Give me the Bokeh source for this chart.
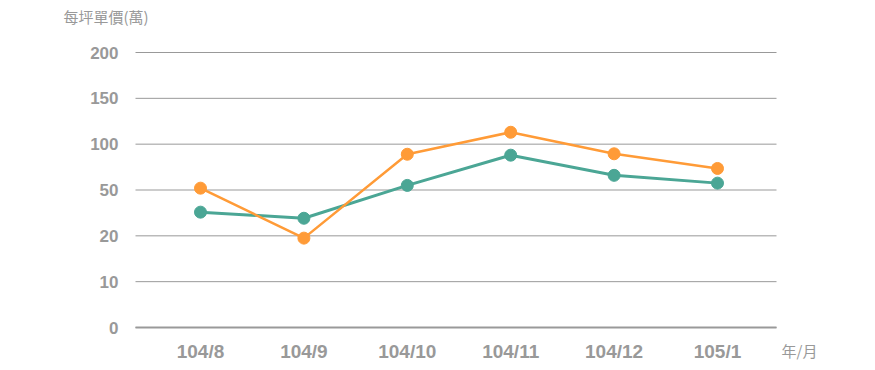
import numpy as np
from bokeh.plotting import figure
from bokeh.models import ColumnDataSource, FixedTicker, Range1d, Label
from bokeh.embed import file_html
from bokeh.resources import INLINE

months = ["104/8", "104/9", "104/10", "104/11", "104/12", "105/1"]
series_green = [35.5, 31.5, 55, 88, 66, 57.5]
series_orange = [52, 19.5, 89, 113, 89.5, 73.5]
y_tick_values = [0, 10, 20, 50, 100, 150, 200]
y_title = "每坪單價(萬)"
x_title = "年/月"

GREEN = "#4ba695"
ORANGE = "#ff9b37"
GRAY = "#999999"

W, H = 875, 370
# pixel layout of the plotting area inside the canvas
PX_LEFT, PX_RIGHT, PX_TOP, PX_BOTTOM = 135, 776, 52, 327
PX_FIRST, PX_LAST = 200, 717

tick_pos = list(range(len(y_tick_values)))
def ypos(vals):
    return list(np.interp(vals, y_tick_values, tick_pos))

xs = list(range(len(months)))

ux = (PX_LAST - PX_FIRST) / (len(months) - 1)
uy = (PX_BOTTOM - PX_TOP) / (len(y_tick_values) - 1)
def dx(px):
    return (px - PX_FIRST) / ux
def dy(py):
    return (PX_BOTTOM - py) / uy

p = figure(width=W, height=H, output_backend="svg", toolbar_location=None,
           x_range=Range1d(dx(0), dx(W)), y_range=Range1d(dy(H), dy(0)),
           min_border=0)
p.outline_line_color = None
p.background_fill_color = "white"
p.border_fill_color = "white"
p.xgrid.visible = False
p.ygrid.visible = False

grid_x0, grid_x1 = dx(PX_LEFT), dx(PX_RIGHT)
p.segment(x0=[grid_x0] * len(tick_pos), x1=[grid_x1] * len(tick_pos),
          y0=tick_pos, y1=tick_pos, line_color=GRAY, line_width=1)

p.yaxis.fixed_location = grid_x0
p.yaxis.ticker = FixedTicker(ticks=tick_pos)
p.yaxis.major_label_overrides = {i: str(v) for i, v in zip(tick_pos, y_tick_values)}
p.yaxis.axis_line_color = None
p.yaxis.major_tick_line_color = None
p.yaxis.minor_tick_line_color = None
p.yaxis.major_tick_out = 0
p.yaxis.major_tick_in = 0
p.yaxis.major_label_standoff = 17
p.yaxis.major_label_text_font = "Liberation Sans"
p.yaxis.major_label_text_font_style = "bold"
p.yaxis.major_label_text_font_size = "17px"
p.yaxis.major_label_text_color = GRAY

p.xaxis.fixed_location = 0
p.xaxis.bounds = (grid_x0, grid_x1)
p.xaxis.ticker = FixedTicker(ticks=xs)
p.xaxis.major_label_overrides = {i: m for i, m in zip(xs, months)}
p.xaxis.axis_line_color = GRAY
p.xaxis.axis_line_width = 2
p.xaxis.major_tick_line_color = None
p.xaxis.minor_tick_line_color = None
p.xaxis.major_tick_out = 0
p.xaxis.major_tick_in = 0
p.xaxis.major_label_standoff = 13
p.xaxis.major_label_text_font = "Liberation Sans"
p.xaxis.major_label_text_font_style = "bold"
p.xaxis.major_label_text_font_size = "19px"
p.xaxis.major_label_text_color = GRAY

src_g = ColumnDataSource(dict(x=xs, y=ypos(series_green)))
src_o = ColumnDataSource(dict(x=xs, y=ypos(series_orange)))

p.line("x", "y", source=src_g, line_color=GREEN, line_width=3)
p.scatter("x", "y", source=src_g, size=12, fill_color=GREEN, line_color=GREEN)
p.line("x", "y", source=src_o, line_color=ORANGE, line_width=2.5)
p.scatter("x", "y", source=src_o, size=12, fill_color=ORANGE, line_color=ORANGE)

p.add_layout(Label(x=dx(63), y=dy(16), text=y_title,
                   text_font="Noto Sans CJK TC", text_font_size="15px",
                   text_color=GRAY, text_baseline="middle", text_align="left"))
p.add_layout(Label(x=dx(781), y=dy(350), text=x_title,
                   text_font="Noto Sans CJK TC", text_font_size="15px",
                   text_color=GRAY, text_baseline="middle", text_align="left"))

open("out.html", "w").write(file_html(p, INLINE))
